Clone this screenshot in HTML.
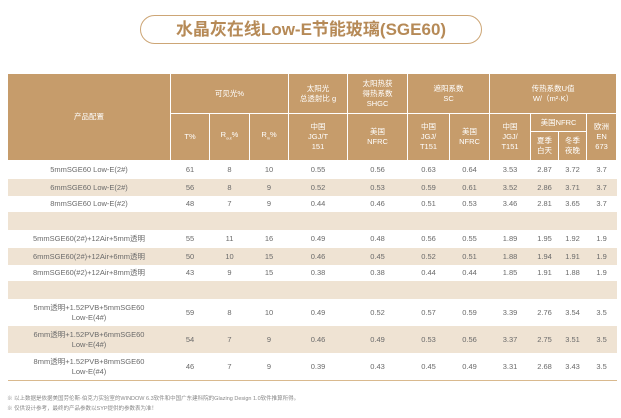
<!DOCTYPE html><html><head><meta charset="utf-8"><style>
body{margin:0;width:621px;height:418px;background:#fff;font-family:"Liberation Sans","Noto Sans CJK SC",sans-serif;position:relative;overflow:hidden}
.pill{position:absolute;left:140px;top:15px;width:340px;height:27px;border:1.5px solid #cda676;border-radius:15px;text-align:center;line-height:27px;font-size:17px;font-weight:bold;color:#b68a57}
table{position:absolute;left:7px;top:73px;width:609px;border-collapse:collapse;table-layout:fixed;font-size:7.5px;color:#6a6a6a}
th{background:#c69c6b;color:#fff;font-weight:normal;border:1px solid #fff;line-height:10px;padding:0}
td{text-align:center;padding:0;border:none}
td:first-child{text-align:center}
tr.s td{background:#efe3d3}
tbody tr:last-child td{border-bottom:1.5px solid #d9b98e}
.f{position:absolute;left:7px;font-size:5.5px;color:#888}
</style></head><body>
<div class="pill">水晶灰在线Low-E节能玻璃(SGE60)</div>
<table>
<colgroup><col style="width:163px"><col style="width:39px"><col style="width:40px"><col style="width:39px"><col style="width:59px"><col style="width:60px"><col style="width:42px"><col style="width:40px"><col style="width:41px"><col style="width:28px"><col style="width:28px"><col style="width:30px"></colgroup>
<thead>
<tr style="height:40px"><th rowspan="3">产品配置</th><th colspan="3">可见光%</th><th>太阳光<br>总透射比 g</th><th>太阳热获<br>得热系数<br>SHGC</th><th colspan="2">遮阳系数<br>SC</th><th colspan="4">传热系数U值<br>W/（m²·K）</th></tr>
<tr style="height:18px"><th rowspan="2">T%</th><th rowspan="2">R<sub style="font-size:4px">out</sub>%</th><th rowspan="2">R<sub style="font-size:4px">in</sub>%</th><th rowspan="2">中国<br>JGJ/T<br>151</th><th rowspan="2">美国<br>NFRC</th><th rowspan="2">中国<br>JGJ/<br>T151</th><th rowspan="2">美国<br>NFRC</th><th rowspan="2">中国<br>JGJ/<br>T151</th><th colspan="2">美国NFRC</th><th rowspan="2">欧洲<br>EN<br>673</th></tr>
<tr style="height:29px"><th>夏季<br>白天</th><th>冬季<br>夜晚</th></tr>
</thead>
<tbody>
<tr style="height:18px"><td>5mmSGE60 Low-E(2#)</td><td>61</td><td>8</td><td>10</td><td>0.55</td><td>0.56</td><td>0.63</td><td>0.64</td><td>3.53</td><td>2.87</td><td>3.72</td><td>3.7</td></tr>
<tr class="s" style="height:17px"><td>6mmSGE60 Low-E(2#)</td><td>56</td><td>8</td><td>9</td><td>0.52</td><td>0.53</td><td>0.59</td><td>0.61</td><td>3.52</td><td>2.86</td><td>3.71</td><td>3.7</td></tr>
<tr style="height:16px"><td>8mmSGE60 Low-E(#2)</td><td>48</td><td>7</td><td>9</td><td>0.44</td><td>0.46</td><td>0.51</td><td>0.53</td><td>3.46</td><td>2.81</td><td>3.65</td><td>3.7</td></tr>
<tr class="s" style="height:18px"><td colspan="12"></td></tr>
<tr style="height:18px"><td>5mmSGE60(2#)+12Air+5mm透明</td><td>55</td><td>11</td><td>16</td><td>0.49</td><td>0.48</td><td>0.56</td><td>0.55</td><td>1.89</td><td>1.95</td><td>1.92</td><td>1.9</td></tr>
<tr class="s" style="height:17px"><td>6mmSGE60(2#)+12Air+6mm透明</td><td>50</td><td>10</td><td>15</td><td>0.46</td><td>0.45</td><td>0.52</td><td>0.51</td><td>1.88</td><td>1.94</td><td>1.91</td><td>1.9</td></tr>
<tr style="height:16px"><td>8mmSGE60(#2)+12Air+8mm透明</td><td>43</td><td>9</td><td>15</td><td>0.38</td><td>0.38</td><td>0.44</td><td>0.44</td><td>1.85</td><td>1.91</td><td>1.88</td><td>1.9</td></tr>
<tr class="s" style="height:18px"><td colspan="12"></td></tr>
<tr style="height:27px"><td>5mm透明+1.52PVB+5mmSGE60<br>Low-E(4#)</td><td>59</td><td>8</td><td>10</td><td>0.49</td><td>0.52</td><td>0.57</td><td>0.59</td><td>3.39</td><td>2.76</td><td>3.54</td><td>3.5</td></tr>
<tr class="s" style="height:27px"><td>6mm透明+1.52PVB+6mmSGE60<br>Low-E(4#)</td><td>54</td><td>7</td><td>9</td><td>0.46</td><td>0.49</td><td>0.53</td><td>0.56</td><td>3.37</td><td>2.75</td><td>3.51</td><td>3.5</td></tr>
<tr style="height:28px"><td>8mm透明+1.52PVB+8mmSGE60<br>Low-E(#4)</td><td>46</td><td>7</td><td>9</td><td>0.39</td><td>0.43</td><td>0.45</td><td>0.49</td><td>3.31</td><td>2.68</td><td>3.43</td><td>3.5</td></tr>
</tbody></table>
<div class="f" style="top:394px">※ 以上数据是依据美国劳伦斯·伯克力实验室的WINDOW 6.3软件和中国广东建科院的Glazing Design 1.0软件推算所得。</div>
<div class="f" style="top:404px">※ 仅供设计参考，最终的产品参数以SYP提供的参数表为准！</div>
</body></html>
